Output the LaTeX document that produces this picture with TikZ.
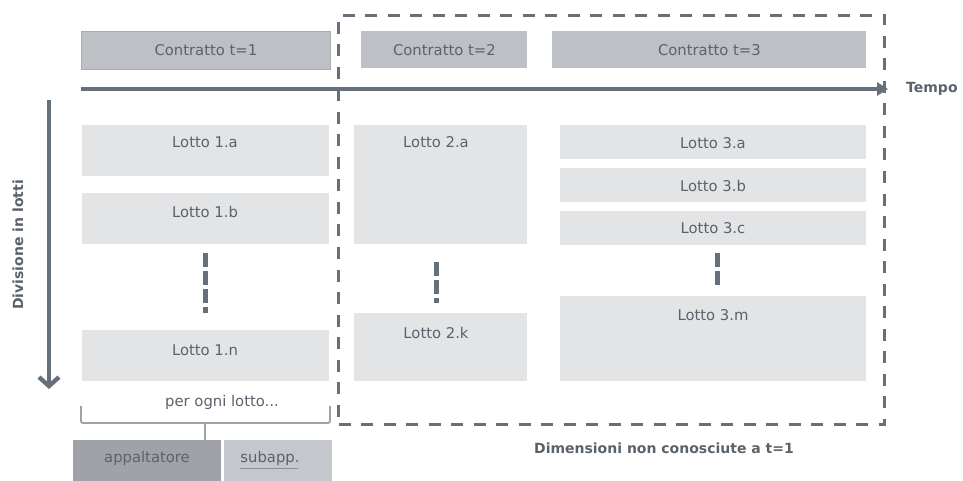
\documentclass[tikz,border=0pt]{standalone}
\usepackage{fontspec}
\setmainfont{DejaVu Sans}
\usetikzlibrary{arrows.meta}
\definecolor{txt}{HTML}{5A626B}
\definecolor{axis}{HTML}{66707A}
\definecolor{contr}{HTML}{BDC0C5}
\definecolor{contrb}{HTML}{A8ACB1}
\definecolor{lotfill}{HTML}{E3E4E6}
\definecolor{appf}{HTML}{9FA3A9}
\definecolor{subf}{HTML}{C4C7CB}
\definecolor{brace}{HTML}{9EA3A8}
\tikzset{
  contrbox/.style={draw=contrb, line width=0.8pt, fill=contr, text=txt, inner sep=0pt, font=\fontsize{14.8}{16}\selectfont},
  lotbox/.style={fill=lotfill, inner sep=0pt},
  lbl/.style={text=txt, inner sep=0pt, font=\fontsize{14.8}{16}\selectfont},
  blbl/.style={text=txt, inner sep=0pt, font=\fontsize{14}{16}\selectfont\bfseries},
  dots/.style={draw=axis, line width=5pt, dash pattern=on 14pt off 4pt},
}
\begin{document}
\begin{tikzpicture}[x=1pt,y=-1pt]
\useasboundingbox (0,0) rectangle (963,481);
% contract boxes
\node[contrbox, minimum width=249pt, minimum height=38pt, anchor=north west] (c1) at (81,31) {Contratto t=1};
\node[contrbox, draw=none, minimum width=166pt, minimum height=37pt, anchor=north west] (c2) at (361,31) {Contratto t=2};
\node[contrbox, draw=none, minimum width=314pt, minimum height=37pt, anchor=north west] (c3) at (552,31) {Contratto t=3};
% lots column 1
\node[lotbox, minimum width=247pt, minimum height=51pt, anchor=north west] (l1a) at (82,125) {};
\node[lbl] (t1a) at (205,142) {Lotto 1.a};
\node[lotbox, minimum width=247pt, minimum height=51pt, anchor=north west] (l1b) at (82,193) {};
\node[lbl] (t1b) at (205,212) {Lotto 1.b};
\node[lotbox, minimum width=247pt, minimum height=51pt, anchor=north west] (l1n) at (82,330) {};
\node[lbl] (t1n) at (205,350) {Lotto 1.n};
\coordinate (d1s) at (205,253);
\coordinate (d1e) at (205,313);
\draw[dots] (d1s) -- (d1e);
% column 2
\node[lotbox, minimum width=173pt, minimum height=119pt, anchor=north west] (l2a) at (354,125) {};
\node[lbl] (t2a) at (436,142) {Lotto 2.a};
\node[lotbox, minimum width=173pt, minimum height=68pt, anchor=north west] (l2k) at (354,313) {};
\node[lbl] (t2k) at (436,333) {Lotto 2.k};
\coordinate (d2s) at (436,262);
\coordinate (d2e) at (436,303);
\draw[dots] (d2s) -- (d2e);
% column 3
\node[lotbox, minimum width=306pt, minimum height=34pt, anchor=north west] (l3a) at (560,125) {};
\node[lbl] (t3a) at (713,143) {Lotto 3.a};
\node[lotbox, minimum width=306pt, minimum height=34pt, anchor=north west] (l3b) at (560,168) {};
\node[lbl] (t3b) at (713,186) {Lotto 3.b};
\node[lotbox, minimum width=306pt, minimum height=34pt, anchor=north west] (l3c) at (560,211) {};
\node[lbl] (t3c) at (713,228) {Lotto 3.c};
\node[lotbox, minimum width=306pt, minimum height=85pt, anchor=north west] (l3m) at (560,296) {};
\node[lbl] (t3m) at (713,315) {Lotto 3.m};
\coordinate (d3s) at (717,253);
\coordinate (d3e) at (717,287);
\draw[dots] (d3s) -- (d3e);
% dashed frame
\node[draw=axis, line width=3pt, dash pattern=on 12pt off 10.5pt, minimum width=546pt, minimum height=409pt, anchor=north west, inner sep=0pt] (frame) at (337,14) {};
% time axis
\coordinate (ts) at (81,89);
\node[blbl, anchor=west] (tempo) at (906,89) {Tempo};
\coordinate (te) at (888,89);
\draw[axis, line width=4.3pt, -{Triangle[length=11pt,width=13pt]}] (ts) -- (te);
% vertical axis
\coordinate (vs) at (49,100);
\coordinate (ve) at (49,389);
\draw[axis, line width=4.3pt, -{Straight Barb[length=9pt,width=20pt,line width=4.3pt]}] (vs) -- (ve);
\node[blbl, rotate=90] (div) at (18,245) {Divisione in lotti};
% per ogni lotto
\node[lbl] (pol) at (222,402) {per ogni lotto...};
\coordinate (bl) at (81,406);
\coordinate (br) at (330,406);
\coordinate (bm) at (205,440);
\draw[brace, line width=1.8pt, rounded corners=2pt] (bl) |- (205,423) -| (br);
\draw[brace, line width=1.8pt, rounded corners=2pt] (205,423) -- (bm);
% appaltatore / subapp
\node[fill=appf, minimum width=148pt, minimum height=41pt, anchor=north west, inner sep=0pt] (app) at (73,440) {};
\node[lbl] (tapp) at (147,458) {appaltatore};
\node[fill=subf, minimum width=108pt, minimum height=41pt, anchor=north west, inner sep=0pt] (sub) at (224,440) {};
\node[lbl] (tsub) at (270,458) {subapp.};
\draw[txt!70, line width=0.6pt] (tsub.south west) ++(0,3) -- ++(58,0);
% caption
\node[blbl] (dim) at (664,448) {Dimensioni non conosciute a t=1};
\end{tikzpicture}
\end{document}
